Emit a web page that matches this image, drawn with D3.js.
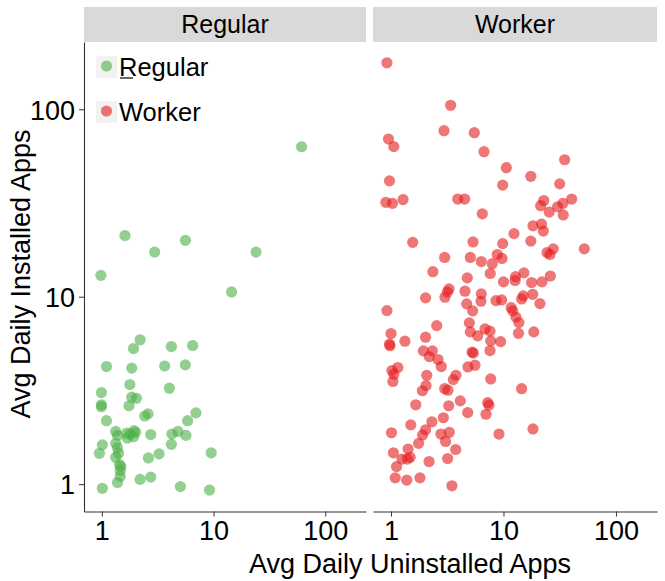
<!DOCTYPE html>
<html>
<head>
<meta charset="utf-8">
<script src="https://cdn.jsdelivr.net/npm/d3@7"></script>
<style>
  body { margin: 0; background: #fff; }
  text { font-family: "Liberation Sans", Arial, sans-serif; fill: #000; }
</style>
</head>
<body>
<svg width="665" height="581"></svg>
<script>
const groups = ['Regular', 'Worker']
const colors = ['#4DAF4A', '#E41A1C']
const xTicks = [1, 10, 100]
const yTicks = [1, 10, 100]

// Regular users: avg daily uninstalled / installed
const regularX = [1.61, 5.6, 2.97, 24.0, 0.98, 14.5, 2.2, 1.92, 4.19, 6.5, 1.10, 1.85, 3.65, 5.59, 1.78, 4.02,
  0.99, 1.85, 2.04, 0.99, 0.99, 1.75, 1.10, 2.42, 2.59, 6.95, 5.86, 1.33, 1.38, 1.67, 1.79, 1.94, 2.01, 1.92,
  1.69, 2.74, 4.24, 4.80, 5.66, 1.01, 1.33, 4.19, 0.95, 1.38, 1.41, 1.33, 3.25, 9.53, 2.61, 1.44, 1.48, 1.46,
  1.46, 1.38, 2.20, 2.74, 1.01, 5.05, 9.21, 61.4]
const regularY = [21.2, 20.0, 17.3, 17.3, 13.0, 10.6, 5.89, 5.29, 5.42, 5.49, 4.24, 4.16, 4.27, 4.33, 3.40, 3.25,
  3.08, 2.91, 2.87, 2.65, 2.59, 2.62, 2.18, 2.31, 2.37, 2.40, 2.18, 1.91, 1.82, 1.87, 1.85, 1.93, 1.89, 1.79,
  1.76, 1.84, 1.85, 1.91, 1.82, 1.62, 1.65, 1.63, 1.46, 1.56, 1.46, 1.39, 1.45, 1.47, 1.38, 1.27, 1.24, 1.18,
  1.10, 1.02, 1.06, 1.09, 0.95, 0.97, 0.93, 63.1]

// Worker users
const workerX = [0.92, 3.39, 2.96, 5.5, 0.95, 1.06, 6.71, 10.6, 35.0, 17.5, 0.97, 9.84, 31.6, 0.90, 1.03, 1.28,
  3.92, 4.52, 6.48, 22.8, 21.4, 25.5, 30.3, 33.8, 40.4, 34.0, 18.3, 21.8, 22.6, 12.4,
  1.56, 5.36, 9.84, 17.5, 52.3, 24.4, 25.9, 27.7, 3.0, 5.07, 6.35, 7.95, 8.81, 9.7, 2.36, 7.63, 4.77, 15.2,
  12.8, 12.7, 26.1, 10.0, 17.8, 22.0, 3.28, 3.17, 3.02, 2.03, 4.55, 6.35, 6.31, 4.71, 5.32, 8.58, 9.64, 15.0,
  14.5, 18.2, 21.1, 11.7, 12.1, 12.9, 13.7, 13.6, 18.6, 0.92, 2.55, 4.97, 5.07, 5.9, 6.85, 7.59, 7.7, 9.44,
  7.59, 1.0, 0.97, 0.98, 1.33, 2.03, 1.94, 2.33, 2.19, 2.62, 2.80, 5.25, 5.39, 4.83, 5.58, 7.7, 14.5, 1.15,
  1.02, 1.06, 1.04, 2.08, 2.05, 1.90, 3.0, 3.21, 3.58, 3.78, 1.66, 3.26, 4.13, 4.81, 7.24, 7.43, 6.99, 1.50,
  2.31, 2.03, 2.92, 1.01, 1.91, 2.78, 3.30, 3.06, 1.76, 9.12, 18.3, 1.05, 1.42, 1.25, 1.40, 1.48, 3.76, 3.19,
  2.18, 1.12, 1.09, 1.38, 1.81, 3.48]
const workerY = [177, 105, 76.9, 75.0, 69.4, 63.2, 59.4, 48.8, 53.8, 43.9, 41.5, 39.4, 40.0, 31.9, 31.5, 33.0,
  33.2, 33.2, 27.7, 32.6, 30.6, 28.3, 30.2, 31.5, 33.2, 27.3, 23.9, 24.4, 22.4, 21.7,
  19.5, 19.6, 19.2, 19.8, 18.0, 17.2, 16.8, 18.0, 16.2, 16.2, 15.4, 15.0, 16.8, 16.0, 13.6, 13.3, 12.6, 13.4,
  12.8, 12.2, 12.9, 12.0, 11.9, 12.0, 11.0, 10.6, 9.94, 9.86, 10.7, 10.35, 9.46, 9.16, 8.40, 9.53, 9.61, 10.1,
  9.73, 10.3, 9.19, 8.74, 8.4, 7.78, 7.28, 6.38, 6.49, 8.43, 7.01, 7.25, 6.49, 6.18, 6.73, 6.55, 5.81, 5.76,
  5.16, 6.36, 5.58, 5.48, 5.79, 6.08, 5.14, 5.14, 4.79, 4.62, 4.24, 5.06, 5.0, 4.22, 4.31, 3.64, 3.23, 4.19,
  4.04, 3.86, 3.53, 3.81, 3.36, 3.15, 3.23, 3.17, 3.61, 3.81, 2.65, 2.62, 2.78, 2.41, 2.72, 2.64, 2.36, 2.07,
  2.15, 1.95, 2.26, 1.88, 1.83, 1.85, 1.89, 1.69, 1.65, 1.85, 1.97, 1.47, 1.54, 1.36, 1.36, 1.39, 1.53, 1.37,
  1.32, 1.24, 1.08, 1.05, 1.08, 0.98]

const series = [
  regularX.map((x, i) => ({x: x, y: regularY[i]})),
  workerX.map((x, i) => ({x: x, y: workerY[i]}))
]

const svg = d3.select('svg')
const panelTop = 42
const panelBottom = 511.5
const panels = [{x0: 84, w: 282}, {x0: 373, w: 284}]

const y = d3.scaleLog()
    .domain([Math.pow(10, -0.146), Math.pow(10, 2.359)])
    .range([panelBottom, panelTop])

const fmt = d => d3.format('d')(d)

panels.forEach((p, i) => {
  const x = d3.scaleLog()
      .domain([Math.pow(10, -0.16), Math.pow(10, 2.365)])
      .range([p.x0, p.x0 + p.w])

  // strip
  svg.append('rect')
      .attr('x', p.x0)
      .attr('y', 7)
      .attr('width', p.w)
      .attr('height', panelTop - 7)
      .attr('fill', '#d9d9d9')
  svg.append('text')
      .attr('x', p.x0 + p.w / 2)
      .attr('y', 33)
      .attr('text-anchor', 'middle')
      .attr('font-size', 25)
      .attr('fill', '#1a1a1a')
      .text(groups[i])

  // x axis
  const gx = svg.append('g')
      .attr('transform', `translate(0, ${panelBottom})`)
      .call(d3.axisBottom(x).tickValues(xTicks).tickFormat(fmt).tickSize(5).tickSizeOuter(0))
  gx.select('.domain').attr('stroke', '#333').attr('stroke-width', 1.1)
  gx.selectAll('.tick line').attr('stroke', '#333')
  gx.selectAll('.tick text')
      .attr('font-size', 27)
      .attr('fill', '#000')
      .attr('y', 28.5)
      .attr('dy', null)

  // points
  svg.append('g')
    .selectAll('circle')
    .data(series[i])
    .join('circle')
      .attr('cx', d => x(d.x))
      .attr('cy', d => y(d.y))
      .attr('r', 5.6)
      .attr('fill', colors[i])
      .attr('fill-opacity', 0.6)
})

// y axis (left panel only)
const gy = svg.append('g')
    .attr('transform', `translate(${panels[0].x0}, 0)`)
    .call(d3.axisLeft(y).tickValues(yTicks).tickFormat(fmt).tickSize(5).tickSizeOuter(0))
gy.select('.domain').attr('stroke', '#333').attr('stroke-width', 1.1)
gy.selectAll('.tick line').attr('stroke', '#333')
gy.selectAll('.tick text')
    .attr('font-size', 27)
    .attr('fill', '#000')
    .attr('x', -9)
    .attr('dy', '0.36em')

// axis titles
svg.append('text')
    .attr('x', 410)
    .attr('y', 573)
    .attr('text-anchor', 'middle')
    .attr('font-size', 27)
    .text('Avg Daily Uninstalled Apps')
svg.append('text')
    .attr('transform', 'translate(30, 274) rotate(-90)')
    .attr('text-anchor', 'middle')
    .attr('font-size', 27)
    .text('Avg Daily Installed Apps')

// legend inside the left panel
const legend = svg.append('g')
groups.forEach((gname, i) => {
  const ly = 67 + i * 45
  legend.append('rect')
      .attr('x', 96)
      .attr('y', ly - 11)
      .attr('width', 21)
      .attr('height', 22)
      .attr('fill', '#f2f2f2')
  legend.append('circle')
      .attr('cx', 106.5)
      .attr('cy', ly - 1)
      .attr('r', 5.6)
      .attr('fill', colors[i])
      .attr('fill-opacity', 0.6)
  legend.append('text')
      .attr('x', 119)
      .attr('y', ly + 8.5)
      .attr('font-size', 25.5)
      .text(gname)
})
legend.append('line')
    .attr('x1', 120).attr('x2', 133)
    .attr('y1', 78).attr('y2', 78)
    .attr('stroke', '#000').attr('stroke-width', 1.2)
</script>
</body>
</html>
